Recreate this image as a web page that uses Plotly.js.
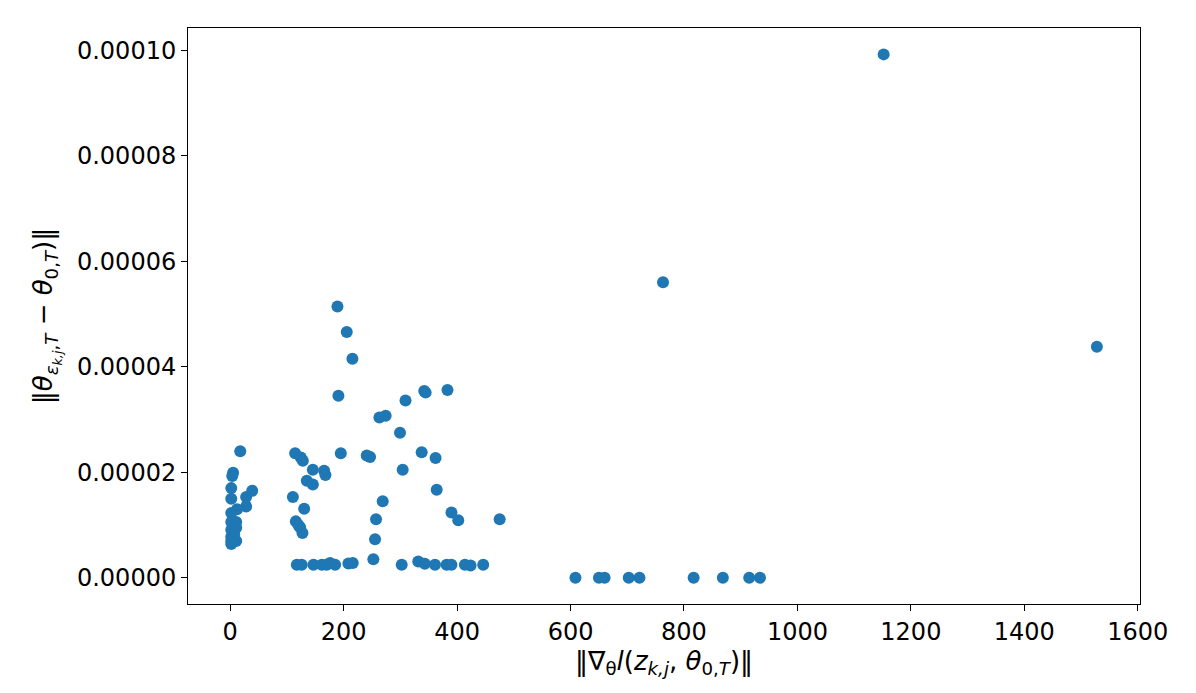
<!DOCTYPE html>
<html>
<head>
<meta charset="utf-8">
<script src="https://cdn.plot.ly/plotly-3.0.1.min.js"></script>
<style>html,body{margin:0;padding:0;background:#fff;}#chart{width:1196px;height:693px;}</style>
</head>
<body>
<div id="chart"></div>
<script>
// gradient norm (x) and parameter change norm (y)
const gradNorm = [
  17.6, 5, 3.5, 1.8, 1.8, 38.7, 28, 28, 12, 1.8, 1.8, 10.5, 1.8, 10.5, 1.8, 7, 1.8, 10.5, 1.8, 5,
  114.4, 124.4, 128, 145.6, 165.5, 167.8, 135, 145.6, 110.4, 130.3, 115.6, 123.2, 127.3, 120,
  194.9, 240.6, 246.5, 299.3, 304, 337.5, 362, 364, 390, 402, 475, 268.8, 257, 255.3, 252.3,
  189, 205.4, 215.4, 190.7, 342, 344.5, 383, 309, 263, 274,
  117.4, 126, 146.7, 161.4, 170, 176, 184.9, 208.3, 216, 302.3, 331.5, 343, 361, 381.5, 390, 413.7, 423.7, 446,
  608.6, 650, 660, 702.6, 721.5, 817, 868.5, 915, 934,
  763, 1152, 1528
];
const paramChange = [
  2.40e-5, 1.99e-5, 1.93e-5, 1.70e-5, 1.50e-5, 1.65e-5, 1.53e-5, 1.35e-5, 1.30e-5, 1.23e-5, 1.06e-5, 1.06e-5, 0.91e-5, 0.95e-5, 0.78e-5, 0.83e-5, 0.70e-5, 0.70e-5, 0.64e-5, 0.72e-5,
  2.36e-5, 2.28e-5, 2.22e-5, 2.05e-5, 2.03e-5, 1.95e-5, 1.84e-5, 1.77e-5, 1.53e-5, 1.31e-5, 1.07e-5, 0.96e-5, 0.85e-5, 1.00e-5,
  2.36e-5, 2.32e-5, 2.29e-5, 2.75e-5, 2.05e-5, 2.38e-5, 2.27e-5, 1.67e-5, 1.24e-5, 1.09e-5, 1.11e-5, 1.45e-5, 1.11e-5, 0.73e-5, 0.35e-5,
  5.14e-5, 4.66e-5, 4.15e-5, 3.45e-5, 3.54e-5, 3.51e-5, 3.56e-5, 3.36e-5, 3.04e-5, 3.07e-5,
  0.246e-5, 0.246e-5, 0.246e-5, 0.246e-5, 0.25e-5, 0.28e-5, 0.246e-5, 0.27e-5, 0.28e-5, 0.246e-5, 0.31e-5, 0.265e-5, 0.246e-5, 0.246e-5, 0.246e-5, 0.246e-5, 0.235e-5, 0.246e-5,
  0, 0, 0, 0, 0, 0, 0, 0, 0,
  5.60e-5, 9.92e-5, 4.38e-5
];
const xTitle = '‖∇<sub>θ</sub><i>l</i>(<i>z</i><sub><i>k,j</i></sub>, <i>θ</i><sub>0,<i>T</i></sub>)‖';
const yTitle = '‖<i>θ</i><sub><i>ε</i><sub><i>k,j</i></sub>,<i>T</i></sub> − <i>θ</i><sub>0,<i>T</i></sub>)‖';

const trace = {
  x: gradNorm, y: paramChange, type: 'scatter', mode: 'markers',
  marker: {color: '#1f77b4', size: 12, line: {width: 0}}
};
const axisCommon = {
  showgrid: false, zeroline: false, showline: true, mirror: true,
  linecolor: '#000', linewidth: 1, ticks: 'outside', ticklen: 6, tickwidth: 1, tickcolor: '#000',
  tickfont: {family: 'DejaVu Sans', size: 24, color: '#000'}
};
const layout = {
  width: 1196, height: 693,
  margin: {l: 188, r: 56, t: 28, b: 89},
  paper_bgcolor: '#fff', plot_bgcolor: '#fff',
  showlegend: false,
  font: {family: 'DejaVu Sans', color: '#000'},
  xaxis: Object.assign({}, axisCommon, {
    range: [-74.5, 1604], tickmode: 'linear', tick0: 0, dtick: 200,
    title: {text: xTitle, font: {family: 'DejaVu Sans', size: 26, color: '#000'}, standoff: 6}
  }),
  yaxis: Object.assign({}, axisCommon, {
    range: [-0.496e-5, 10.42e-5], tickmode: 'linear', tick0: 0, dtick: 2e-5, tickformat: '.5f',
    title: {text: yTitle, font: {family: 'DejaVu Sans', size: 26, color: '#000'}, standoff: 16}
  })
};
Plotly.newPlot('chart', [trace], layout, {displayModeBar: false, staticPlot: true});
</script>
</body>
</html>
